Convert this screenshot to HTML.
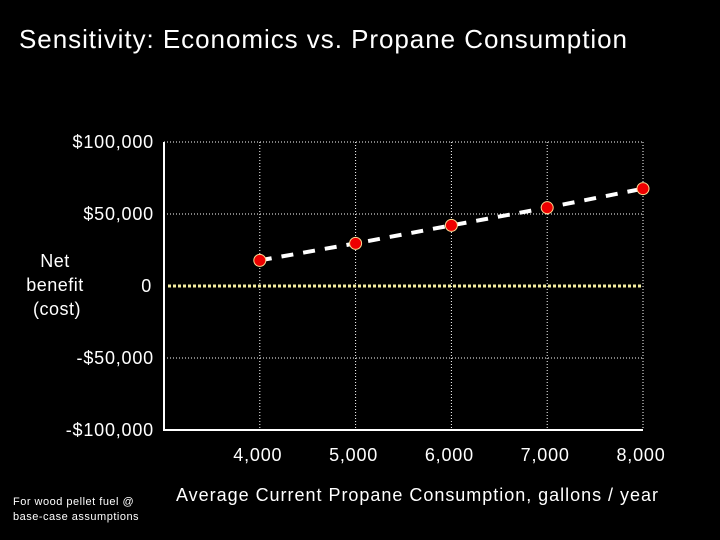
<!DOCTYPE html>
<html><head><meta charset="utf-8"><style>
html,body{margin:0;padding:0;background:#000;}
svg{display:block;font-family:"Liberation Sans",sans-serif;}
</style></head><body>
<svg id="chart" width="720" height="540" viewBox="0 0 720 540">
<rect width="720" height="540" fill="#000"/>
<text x="19" y="48" fill="#fff" font-size="26" textLength="608" lengthAdjust="spacing">Sensitivity: Economics vs. Propane Consumption</text>
<g id="grid"></g>
<g id="yticks"></g>
<g id="xticks"></g>
<g id="series"></g>
<text fill="#fff" font-size="18" letter-spacing="0.5" text-anchor="middle"><tspan x="55" y="267">Net</tspan><tspan x="55" y="291">benefit</tspan><tspan x="57" y="315">(cost)</tspan></text>
<text x="176" y="501" fill="#fff" font-size="18" textLength="482" lengthAdjust="spacing">Average Current Propane Consumption, gallons / year</text>
<text fill="#fff" font-size="11" letter-spacing="0.5"><tspan x="13" y="505">For wood pellet fuel @</tspan><tspan x="13" y="520">base-case assumptions</tspan></text>
</svg>
<script>
const categories=[4000,5000,6000,7000,8000];
const netBenefit=[17800,29600,42100,54400,67600];
const yTickValues=[100000,50000,0,-50000,-100000];
const yTickLabels=["$100,000","$50,000","0","-$50,000","-$100,000"];
const xTickLabels=["4,000","5,000","6,000","7,000","8,000"];
const NS="http://www.w3.org/2000/svg";
function X(v){return 164+(v-3000)*0.0958;}
function Y(v){return 286-v*72/50000;}
function mk(tag,attrs,parent){const e=document.createElementNS(NS,tag);for(const k in attrs)e.setAttribute(k,attrs[k]);parent.appendChild(e);return e;}
const grid=document.getElementById('grid'),yt=document.getElementById('yticks'),xt=document.getElementById('xticks'),se=document.getElementById('series');
const left=164,right=X(8000);
yTickValues.forEach((v,i)=>{
  if(v!==0 && v!==-100000){
    const l=mk('line',{x1:left,x2:right,y1:Y(v),y2:Y(v),stroke:'#fff','stroke-width':1,'stroke-dasharray':'1 2'},grid);
    
    
  }
  const t=mk('text',{x:v===0?152:154,y:Y(v)+6,fill:'#fff','font-size':18,'letter-spacing':0.8,'text-anchor':'end'},yt);
  t.textContent=yTickLabels[i];
  
  
});
categories.forEach((c,i)=>{
  const l=mk('line',{x1:X(c),x2:X(c),y1:Y(100000),y2:Y(-100000),stroke:'#fff','stroke-width':1,'stroke-dasharray':'1 2'},grid);
  
  
  const t=mk('text',{x:X(c)-2,y:461,fill:'#fff','font-size':18,'letter-spacing':0.8,'text-anchor':'middle'},xt);
  t.textContent=xTickLabels[i];
  
  
});
const z=mk('line',{x1:168,x2:right,y1:Y(0),y2:Y(0),stroke:'#f5eea0','stroke-width':3,'stroke-dasharray':'3 2'},grid);


const ax=mk('polyline',{points:`${left},${Y(100000)} ${left},${Y(-100000)} ${right},${Y(-100000)}`,fill:'none',stroke:'#fff','stroke-width':2},grid);


const pts=categories.map((c,i)=>X(c)+','+Y(netBenefit[i])).join(' ');
const tl=mk('polyline',{points:pts,fill:'none',stroke:'#fff','stroke-width':4,'stroke-dasharray':'12 10'},se);


categories.forEach((c,i)=>{
  const p=mk('circle',{cx:X(c),cy:Y(netBenefit[i]),r:6,fill:'#e00',stroke:'#ffd890','stroke-width':1},se);
  
  
});
</script>
</body></html>
